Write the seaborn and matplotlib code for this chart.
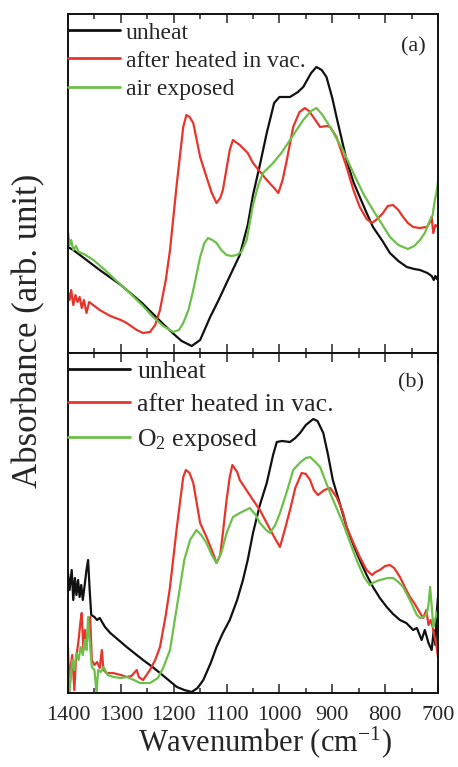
import numpy as np
import pandas as pd
import matplotlib
matplotlib.use("Agg")
import matplotlib.pyplot as plt
import seaborn as sns
from matplotlib.ticker import MultipleLocator

# ---------------- data ----------------
# Panel (a)
a_black_wn = [1400,1390,1380,1360,1340,1300,1260,1239,1220,1200,1185,1166,1150,1131,1115,1100,1075,1060,1050,1037,1024,1010,1000,980,965,955,940,930,920,911,900,892,873,860,848,835,823,805,791,775,759,745,734,720,712,708,705,702,700]
a_black_ab = [1.06,1.03,0.99,0.91,0.83,0.68,0.50,0.39,0.29,0.19,0.12,0.07,0.13,0.36,0.53,0.70,0.98,1.28,1.58,1.88,2.20,2.50,2.56,2.56,2.61,2.66,2.80,2.86,2.83,2.76,2.55,2.36,1.93,1.71,1.56,1.40,1.26,1.12,1.00,0.92,0.86,0.84,0.83,0.80,0.77,0.73,0.77,0.74,0.76]

a_red_wn = [1400,1397,1394,1390,1386,1382,1378,1374,1370,1365,1360,1350,1340,1320,1300,1289,1270,1258,1245,1235,1226,1215,1207,1194,1182,1176,1170,1163,1150,1138,1128,1119,1112,1107,1094,1088,1075,1060,1050,1024,1010,1002,994,986,974,962,952,944,936,923,910,904,892,873,860,848,835,825,815,804,795,785,775,766,757,747,735,721,715,712,709,705,700]
a_red_ab = [0.61,0.53,0.63,0.48,0.58,0.51,0.56,0.45,0.53,0.40,0.51,0.47,0.43,0.37,0.33,0.30,0.23,0.20,0.21,0.28,0.43,0.73,1.03,1.70,2.26,2.38,2.36,2.30,1.96,1.76,1.60,1.50,1.55,1.63,2.03,2.13,2.08,2.00,1.90,1.73,1.65,1.60,1.73,1.93,2.26,2.41,2.45,2.42,2.36,2.26,2.27,2.26,2.16,1.86,1.63,1.46,1.34,1.30,1.34,1.40,1.47,1.48,1.43,1.36,1.30,1.26,1.25,1.26,1.31,1.36,1.20,1.28,1.26]

a_green_wn = [1400,1397,1394,1390,1385,1380,1370,1352,1330,1310,1289,1260,1239,1220,1201,1190,1182,1172,1163,1150,1142,1135,1127,1119,1110,1100,1090,1081,1072,1062,1050,1040,1031,1012,995,980,965,955,940,930,920,904,880,854,840,823,805,791,775,757,745,734,725,715,710,706,703,700]
a_green_ab = [1.21,1.08,1.13,1.03,1.07,1.01,0.99,0.93,0.83,0.73,0.63,0.48,0.36,0.27,0.21,0.23,0.30,0.43,0.63,0.96,1.10,1.15,1.13,1.10,1.03,0.98,0.97,0.98,1.01,1.13,1.48,1.68,1.80,1.90,2.01,2.13,2.25,2.33,2.42,2.45,2.39,2.26,2.03,1.73,1.58,1.43,1.28,1.16,1.08,1.04,1.07,1.13,1.20,1.33,1.38,1.53,1.60,1.71]

# Panel (b)
b_black_wn = [1400,1397,1393,1390,1387,1384,1381,1378,1375,1372,1368,1365,1362,1359,1356,1350,1345,1340,1330,1320,1300,1289,1270,1258,1240,1226,1210,1194,1180,1166,1155,1144,1130,1119,1107,1094,1080,1069,1060,1050,1037,1024,1012,1005,995,980,970,961,950,936,928,917,908,899,885,873,860,848,835,823,810,797,785,772,760,747,740,731,725,718,712,708,705,702,700]
b_black_ab = [1.20,1.03,1.23,0.93,1.15,0.98,1.13,0.96,1.08,0.93,1.10,1.23,1.33,1.03,0.78,0.76,0.73,0.75,0.66,0.60,0.51,0.46,0.38,0.33,0.26,0.20,0.13,0.06,0.03,0.01,0.05,0.13,0.30,0.46,0.60,0.73,0.93,1.13,1.33,1.60,1.88,2.10,2.38,2.51,2.52,2.51,2.55,2.60,2.68,2.74,2.72,2.60,2.38,2.13,1.88,1.66,1.48,1.33,1.18,1.06,0.95,0.86,0.79,0.73,0.70,0.63,0.65,0.53,0.63,0.50,0.43,0.63,0.48,0.83,0.96]

b_red_wn = [1400,1398,1396,1392,1388,1385,1380,1376,1374,1371,1368,1365,1361,1358,1355,1350,1345,1340,1336,1333,1327,1315,1300,1289,1280,1270,1266,1258,1245,1235,1226,1215,1207,1194,1182,1177,1170,1163,1150,1138,1128,1119,1112,1107,1100,1094,1089,1080,1075,1060,1050,1037,1024,1010,999,990,980,970,958,950,942,935,927,915,904,892,880,873,860,848,835,825,818,810,800,791,783,772,760,753,745,734,728,722,718,714,710,706,703,700]
b_red_ab = [0.46,0.00,0.23,0.38,0.03,0.33,0.53,0.73,0.80,0.43,0.63,0.48,0.68,0.76,0.33,0.28,0.31,0.25,0.43,0.23,0.20,0.20,0.18,0.16,0.17,0.23,0.16,0.13,0.23,0.33,0.46,0.78,1.06,1.66,2.16,2.23,2.20,2.10,1.70,1.56,1.43,1.30,1.38,1.60,1.93,2.16,2.28,2.21,2.13,2.01,1.93,1.83,1.70,1.56,1.46,1.63,1.83,2.05,2.20,2.19,2.13,2.03,1.98,2.03,2.05,1.96,1.81,1.66,1.50,1.36,1.23,1.18,1.21,1.23,1.27,1.28,1.25,1.16,1.03,0.96,0.90,0.80,0.75,0.83,0.68,0.73,0.66,0.55,0.48,0.36]

b_green_wn = [1400,1398,1395,1392,1388,1384,1380,1376,1372,1368,1365,1362,1359,1355,1350,1346,1343,1338,1333,1325,1314,1300,1289,1275,1264,1245,1230,1220,1207,1198,1188,1180,1169,1157,1148,1138,1128,1119,1110,1100,1088,1075,1056,1045,1037,1025,1018,1008,999,985,974,960,950,942,932,923,910,904,880,854,840,829,820,810,795,785,775,766,757,747,740,734,728,722,718,715,712,709,706,703,700]
b_green_ab = [0.30,0.00,0.13,0.33,0.23,0.40,0.33,0.46,0.38,0.53,0.43,0.76,0.53,0.26,0.23,0.00,0.23,0.21,0.26,0.18,0.16,0.15,0.16,0.13,0.10,0.10,0.15,0.25,0.43,0.73,1.06,1.33,1.53,1.63,1.58,1.50,1.38,1.30,1.40,1.60,1.76,1.80,1.85,1.78,1.70,1.63,1.60,1.68,1.80,2.03,2.23,2.31,2.35,2.36,2.31,2.26,2.08,2.00,1.70,1.33,1.16,1.08,1.11,1.13,1.15,1.15,1.11,1.06,0.97,0.86,0.78,0.75,0.76,0.78,0.88,1.06,0.88,0.66,0.73,0.78,0.83]

labels_a = ["unheat", "after heated in vac.", "air exposed"]
labels_b = ["unheat", "after heated in vac.", r"O$_\mathregular{2}$ exposed"]
x_ticks = [1400, 1300, 1200, 1100, 1000, 900, 800, 700]

# ---------------- style ----------------
sns.set_style("ticks")
plt.rcParams['font.family'] = ['Liberation Serif', 'DejaVu Serif']
plt.rcParams['mathtext.fontset'] = 'custom'
plt.rcParams['mathtext.rm'] = 'Liberation Serif'
plt.rcParams['mathtext.it'] = 'Liberation Serif:italic'
plt.rcParams['mathtext.bf'] = 'Liberation Serif:bold'

BLACK = "#111111"
RED = "#e8352b"
GREEN = "#6cc04a"
colors = [BLACK, RED, GREEN]

fig = plt.figure(figsize=(4.58, 7.67), dpi=100)
L, R = 68/458, 438/458
ax_a = fig.add_axes([L, 1-353/767, R-L, (353-14)/767])
ax_b = fig.add_axes([L, 1-693/767, R-L, (693-353)/767])

def build(series, labels):
    frames = []
    for (wn, ab), lab in zip(series, labels):
        frames.append(pd.DataFrame({"wn": wn, "ab": ab, "sample": lab}))
    return pd.concat(frames, ignore_index=True)

df_a = build([(a_black_wn, a_black_ab), (a_red_wn, a_red_ab), (a_green_wn, a_green_ab)], labels_a)
df_b = build([(b_black_wn, b_black_ab), (b_red_wn, b_red_ab), (b_green_wn, b_green_ab)], labels_b)

for ax, df, labels, ylim in [(ax_a, df_a, labels_a, (0, 3.39)), (ax_b, df_b, labels_b, (0, 3.40))]:
    sns.lineplot(data=df, x="wn", y="ab", hue="sample", hue_order=labels,
                 palette=colors, estimator=None, sort=True, linewidth=1.6, ax=ax)
    ax.set_xlim(1400, 700)
    ax.set_ylim(*ylim)
    ax.set_yticks([])
    ax.set_ylabel("")
    ax.set_xlabel("")
    ax.xaxis.set_major_locator(MultipleLocator(100))
    ax.xaxis.set_minor_locator(MultipleLocator(50))
    ax.tick_params(axis='x', which='major', direction='in', top=True, bottom=True,
                   length=6.5, width=1.1, labelsize=16, pad=9)
    ax.tick_params(axis='x', which='minor', direction='in', top=True, bottom=True,
                   length=3.3, width=1.1)
    for sp in ax.spines.values():
        sp.set_linewidth(1.4)
        sp.set_color("#111111")

ax_a.tick_params(axis='x', which='both', labelbottom=False)
ax_b.set_xticks(x_ticks)
ax_b.set_xticklabels([str(t) for t in x_ticks])

# legends
h, l = ax_a.get_legend_handles_labels()
leg_a = ax_a.legend(h, l, loc='upper left', bbox_to_anchor=(0, 1.0 - 8/339), frameon=False,
                    fontsize=17, handlelength=2.2, handletextpad=0.25, borderpad=0,
                    borderaxespad=0, labelspacing=0.28)
for line in leg_a.get_lines():
    line.set_linewidth(2.0)

h, l = ax_b.get_legend_handles_labels()
leg_b = ax_b.legend(h, l, loc='upper left', bbox_to_anchor=(0, 1.0 - 7/340), frameon=False,
                    fontsize=18.5, handlelength=2.4, handletextpad=0.3, borderpad=0,
                    borderaxespad=0, labelspacing=0.4)
for line in leg_b.get_lines():
    line.set_linewidth(2.0)

fig.text(413/458, 1-47/767, "(a)", fontsize=16, ha='center', va='center')
fig.text(411/458, 1-383/767, "(b)", fontsize=16, ha='center', va='center')

fig.text(29/458, 1-331/767, "Absorbance (arb. unit)", rotation=90, fontsize=25,
         ha='center', va='center')
fig.text(265/458, 1-742/767, "Wavenumber (cm$^{\\mathregular{-1}}$)", fontsize=22,
         ha='center', va='center')

fig.savefig("out.png", dpi=100)
